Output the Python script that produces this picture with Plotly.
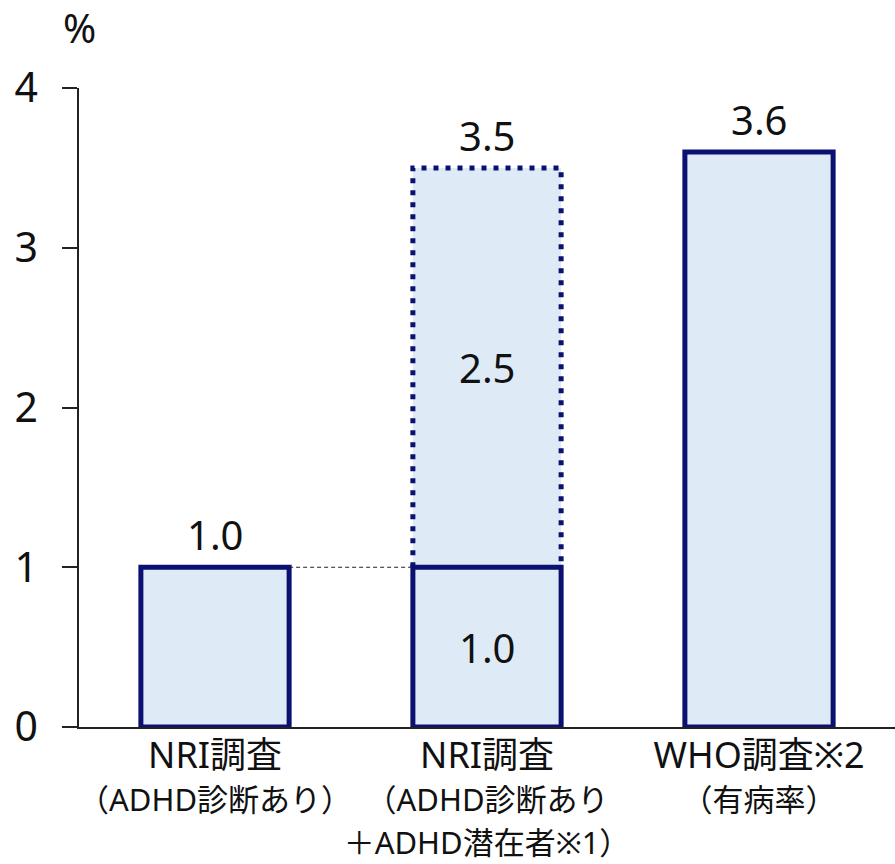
import plotly.graph_objects as go

# Survey names (first line of each x-axis label) and their notes
label_main = ["NRI調査", "NRI調査", "WHO調査※2"]
label_notes = [
    ["（ADHD診断あり）"],
    ["（ADHD診断あり", "＋ADHD潜在者※1）"],
    ["（有病率）"],
]
# Diagnosed / prevalence share (%), drawn with a solid outline
diagnosed = [1.0, 1.0, 3.6]
# Additional latent share (%) stacked on the second survey
latent = [0.0, 2.5, 0.0]
y_ticks = [0, 1, 2, 3, 4]

NAVY = "#0A1172"
FILL = "#DEEBF7"
FONT = "Noto Sans, Noto Sans CJK JP, sans-serif"
BAR_W = 0.545
MAIN_SIZE = 36
NOTE_SIZE = 31

x_pos = list(range(len(label_main)))
totals = [d + l for d, l in zip(diagnosed, latent)]
ticktext = [
    "<br>".join(
        [f"<span style='font-size:{MAIN_SIZE}px'>{m}</span>"]
        + [f"<span style='font-size:{NOTE_SIZE}px'>{n}</span>" for n in notes]
    )
    for m, notes in zip(label_main, label_notes)
]

fig = go.Figure()

# Latent segment: fill only, outlined with a dotted line below
lat_idx = [i for i, v in enumerate(latent) if v > 0]
fig.add_trace(go.Bar(
    x=[x_pos[i] for i in lat_idx],
    y=[latent[i] for i in lat_idx],
    base=[diagnosed[i] for i in lat_idx],
    width=BAR_W,
    marker=dict(color=FILL, line=dict(width=0)),
    hoverinfo="skip",
))

# Solid-outlined bars
fig.add_trace(go.Bar(
    x=x_pos,
    y=diagnosed,
    width=BAR_W,
    marker=dict(color=FILL, line=dict(color=NAVY, width=5)),
    hoverinfo="skip",
))

# Dotted outline around the latent segment
for i in lat_idx:
    x0, x1 = x_pos[i] - BAR_W / 2, x_pos[i] + BAR_W / 2
    fig.add_trace(go.Scatter(
        x=[x0, x0, x1, x1],
        y=[diagnosed[i], totals[i], totals[i], diagnosed[i]],
        mode="lines",
        line=dict(color=NAVY, width=5, dash="5px,7px"),
        hoverinfo="skip",
    ))

# Thin dashed connector between the two NRI bars at the diagnosed level
fig.add_trace(go.Scatter(
    x=[x_pos[0] + BAR_W / 2, x_pos[1] - BAR_W / 2],
    y=[diagnosed[0], diagnosed[1]],
    mode="lines",
    line=dict(color="#222222", width=1, dash="4px,3px"),
    hoverinfo="skip",
))

annotations = []
# Totals above bars
for i, t in enumerate(totals):
    annotations.append(dict(
        x=x_pos[i], y=t, text=f"{t:.1f}", showarrow=False,
        yanchor="bottom", yshift=3, font=dict(size=40, color="#111111", family=FONT),
    ))
# Segment values inside the stacked bar
for i in lat_idx:
    annotations.append(dict(
        x=x_pos[i], y=diagnosed[i] + latent[i] / 2, text=f"{latent[i]:.1f}",
        showarrow=False, yanchor="middle",
        font=dict(size=40, color="#111111", family=FONT),
    ))
    annotations.append(dict(
        x=x_pos[i], y=diagnosed[i] / 2, text=f"{diagnosed[i]:.1f}",
        showarrow=False, yanchor="middle",
        font=dict(size=40, color="#111111", family=FONT),
    ))
# Unit label
annotations.append(dict(
    x=0, xref="paper", y=1, yref="paper", text="%", showarrow=False,
    xanchor="center", yanchor="bottom", yshift=31,
    font=dict(size=40, color="#111111", family=FONT),
))

fig.update_layout(
    width=895,
    height=864,
    autosize=False,
    margin=dict(l=79, r=0, t=88, b=137),
    paper_bgcolor="white",
    plot_bgcolor="white",
    barmode="overlay",
    showlegend=False,
    font=dict(family=FONT, color="#111111"),
    annotations=annotations,
    xaxis=dict(
        range=[-0.5, 2.5],
        tickmode="array",
        tickvals=x_pos,
        ticktext=ticktext,
        tickangle=0,
        automargin=False,
        tickfont=dict(size=33, family=FONT, color="#111111"),
        showline=True,
        linecolor="#222222",
        linewidth=1.5,
        ticks="",
        showgrid=False,
        zeroline=False,
        fixedrange=True,
    ),
    yaxis=dict(
        range=[0, 4],
        tickmode="array",
        tickvals=y_ticks,
        ticktext=[str(v) for v in y_ticks],
        automargin=False,
        tickfont=dict(size=41, family=FONT, color="#111111"),
        ticks="outside",
        ticklen=15,
        tickwidth=1.5,
        tickcolor="#222222",
        ticklabelstandoff=16,
        showline=True,
        linecolor="#222222",
        linewidth=1.5,
        showgrid=False,
        zeroline=False,
        fixedrange=True,
    ),
)

fig.write_html("out.html", config={"displayModeBar": False})
